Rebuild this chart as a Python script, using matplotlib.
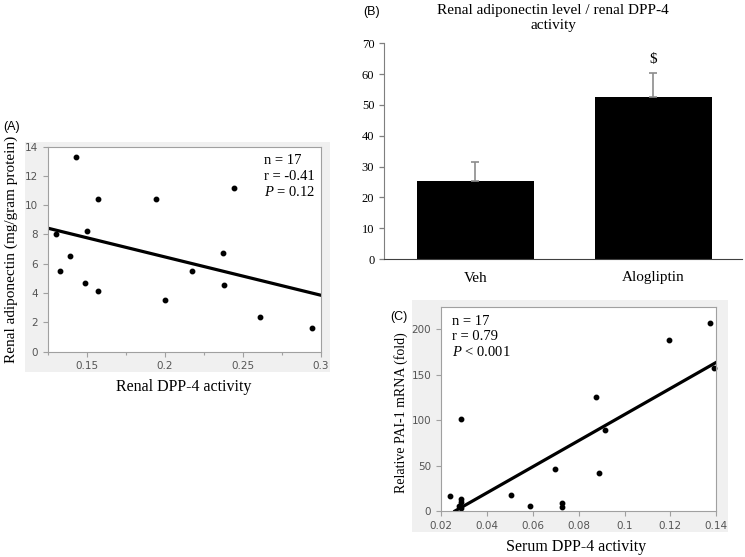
import numpy as np
import matplotlib
matplotlib.use("Agg")
import matplotlib.pyplot as plt
from matplotlib.patches import Rectangle
from matplotlib.ticker import MultipleLocator

# (A) renal DPP-4 activity vs renal adiponectin
a_x = [0.130, 0.133, 0.139, 0.143, 0.149, 0.150, 0.157, 0.157, 0.194, 0.200,
       0.217, 0.237, 0.238, 0.244, 0.261, 0.294]
a_y = [8.0, 5.5, 6.5, 13.3, 4.65, 8.25, 10.4, 4.15, 10.4, 3.5,
       5.5, 6.75, 4.55, 11.15, 2.33, 1.63]
a_fit_x = [0.125, 0.30]
a_fit_y = [8.42, 3.84]

# (B) ratio bars
b_groups = ["Veh", "Alogliptin"]
b_means = [25.4, 52.7]
b_sem = [6.0, 7.6]

# (C) serum DPP-4 activity vs PAI-1 mRNA
c_x = [0.0286, 0.0877, 0.0913, 0.1193, 0.1372, 0.1389, 0.0238, 0.0286, 0.0287,
       0.0286, 0.0507, 0.0586, 0.0696, 0.0727, 0.0727, 0.0889, 0.0280]
c_y = [101, 126, 89, 188, 207, 157, 17, 13, 9.5, 3, 18, 5, 46, 9, 4, 41.5, 6]
c_fit_x = [0.0261, 0.1397]
c_fit_y = [0.0, 163.3]

serif = "Liberation Serif"
plt.rcParams["mathtext.fontset"] = "custom"
plt.rcParams["mathtext.rm"] = serif
plt.rcParams["mathtext.it"] = serif + ":italic"

W, H = 745, 557
fig = plt.figure(figsize=(W / 100, H / 100), dpi=100)

def box(l, t, r, b):
    return [l / W, 1 - b / H, (r - l) / W, (b - t) / H]

tick_col = "#555555"

def jmp_style(ax):
    for s in ax.spines.values():
        s.set_color("#a0a0a0")
        s.set_linewidth(0.8)
    ax.tick_params(axis="both", which="both", direction="out", colors="#a0a0a0",
                   labelcolor=tick_col, labelsize=7.5, width=0.8)
    ax.tick_params(which="major", length=3.5)
    ax.tick_params(which="minor", length=2.5)

# gray panels behind the JMP-style plots
for l, t, r, b in [(25, 142, 330, 372), (412, 300, 728, 532)]:
    fig.patches.append(Rectangle(((l) / W, 1 - b / H), (r - l) / W, (b - t) / H,
                                 transform=fig.transFigure, facecolor="#f0f0f0",
                                 edgecolor="none", zorder=-10))

# ---- panel A ----
axA = fig.add_axes(box(48, 146.5, 321, 351.5))
axA.plot(a_x, a_y, "o", color="black", markersize=3.2, clip_on=False)
axA.plot(a_fit_x, a_fit_y, color="black", linewidth=2.3)
axA.set_xlim(0.125, 0.30)
axA.set_ylim(0, 14)
axA.set_xticks([0.15, 0.2, 0.25, 0.3])
axA.set_xticklabels(["0.15", "0.2", "0.25", "0.3"])
axA.xaxis.set_minor_locator(MultipleLocator(0.025))
axA.set_yticks(range(0, 15, 2))
jmp_style(axA)
axA.text(0.79, 0.93, "n = 17", transform=axA.transAxes, family=serif, fontsize=10.5, va="center")
axA.text(0.79, 0.855, "r = -0.41", transform=axA.transAxes, family=serif, fontsize=10.5, va="center")
axA.text(0.79, 0.78, r"$P$ = 0.12", transform=axA.transAxes, family=serif, fontsize=10.5, va="center")
fig.text(3 / W, 1 - 127 / H, "(A)", fontsize=9, family="Liberation Sans", va="center")
fig.text(11 / W, 1 - 249 / H, "Renal adiponectin (mg/gram protein)", rotation=90,
         ha="center", va="center", family=serif, fontsize=11)
fig.text(184 / W, 1 - 387 / H, "Renal DPP-4 activity", ha="center", va="center",
         family=serif, fontsize=11.5)

# ---- panel B ----
axB = fig.add_axes(box(384, 43.3, 742, 259))
xb = np.arange(len(b_groups))
axB.bar(xb, b_means, width=0.66, color="black")
axB.errorbar(xb, b_means, yerr=[[0, 0], b_sem], fmt="none", ecolor="#8c8c8c",
             elinewidth=1.2, capsize=3, capthick=1.2)
axB.text(1, b_means[1] + b_sem[1] + 4.5, "$", ha="center", va="center", family=serif, fontsize=11)
axB.set_xlim(-0.515, 1.5)
axB.set_ylim(0, 70)
axB.set_yticks(range(0, 71, 10))
axB.set_xticks(xb)
axB.set_xticklabels(b_groups, family=serif, fontsize=11)
for lab in axB.get_yticklabels():
    lab.set_family(serif)
axB.tick_params(axis="y", labelsize=9, length=3.5, color="#7f7f7f", width=0.9)
axB.tick_params(axis="x", length=0, pad=9)
axB.spines["top"].set_visible(False)
axB.spines["right"].set_visible(False)
axB.spines["left"].set_color("#7f7f7f")
axB.spines["bottom"].set_color("#404040")
fig.text(553 / W, 1 - 18 / H, "Renal adiponectin level / renal DPP-4\nactivity", ha="center",
         va="center", family=serif, fontsize=11, linespacing=1.2)
fig.text(363 / W, 1 - 12 / H, "(B)", fontsize=9, family="Liberation Sans", va="center")

# ---- panel C ----
axC = fig.add_axes(box(441, 306.7, 716.3, 511))
axC.plot(c_x, c_y, "o", color="black", markersize=3.2, clip_on=False)
axC.plot(c_fit_x, c_fit_y, color="black", linewidth=2.3)
axC.set_xlim(0.02, 0.14)
axC.set_ylim(0, 225)
axC.set_xticks([0.02, 0.04, 0.06, 0.08, 0.1, 0.12, 0.14])
axC.set_xticklabels(["0.02", "0.04", "0.06", "0.08", "0.1", "0.12", "0.14"])
axC.set_yticks([0, 50, 100, 150, 200])
jmp_style(axC)
axC.text(0.04, 0.93, "n = 17", transform=axC.transAxes, family=serif, fontsize=10.5, va="center")
axC.text(0.04, 0.855, "r = 0.79", transform=axC.transAxes, family=serif, fontsize=10.5, va="center")
axC.text(0.04, 0.78, r"$P$ < 0.001", transform=axC.transAxes, family=serif, fontsize=10.5, va="center")
fig.text(390 / W, 1 - 317 / H, "(C)", fontsize=9, family="Liberation Sans", va="center")
fig.text(401 / W, 1 - 413 / H, "Relative PAI-1 mRNA (fold)", rotation=90,
         ha="center", va="center", family=serif, fontsize=10)
fig.text(576 / W, 1 - 547 / H, "Serum DPP-4 activity", ha="center", va="center",
         family=serif, fontsize=11.5)

fig.savefig("out.png", dpi=100)
